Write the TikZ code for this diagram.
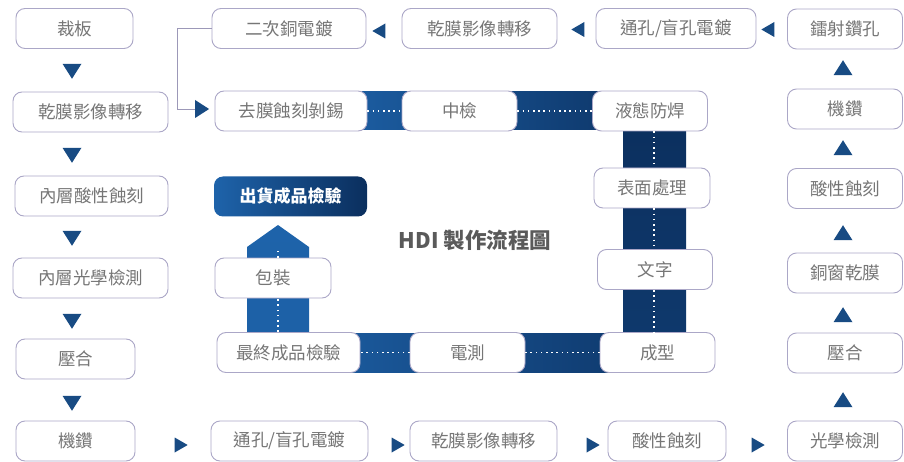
\documentclass[tikz,border=0pt]{standalone}
\usepackage{fontspec}
\setmainfont{Noto Sans CJK TC}
\usepackage{tikz}
\usetikzlibrary{shapes.geometric,calc,backgrounds}
\definecolor{boxline}{HTML}{ABA7C7}
\definecolor{txt}{HTML}{767676}
\definecolor{ttl}{HTML}{5A5A5A}
\definecolor{tri}{HTML}{184B83}
\definecolor{navy}{HTML}{0B2F5E}
\definecolor{midblue}{HTML}{1E63AA}
\definecolor{linkc}{HTML}{9C98B8}
\tikzset{box/.style={draw=boxline,fill=white,rounded corners=9pt,line width=0.9pt,minimum height=40pt,inner sep=0pt,text=txt,font=\fontsize{17.5}{19}\selectfont},
dtri/.style={isosceles triangle,isosceles triangle stretches,inner sep=0pt,fill=tri,minimum width=19pt,minimum height=15pt},
dots/.style={white,line width=1.6pt,dash pattern=on 1.6pt off 3.6pt}}

\begin{document}
\begin{tikzpicture}[x=1pt,y=-1pt]
\useasboundingbox (0,0) rectangle (904,462);
% left column, top down
\node (a1) at (74.5,28.5)[box,minimum width=117pt] {裁板};
\node (a2) at (90.5,112)[box,minimum width=155pt] {乾膜影像轉移};
\node (a3) at (91.5,196)[box,minimum width=153pt] {內層酸性蝕刻};
\node (a4) at (90.5,278)[box,minimum width=155pt] {內層光學檢測};
\node (a5) at (75.5,359)[box,minimum width=119pt] {壓合};
\node (a6) at (75.5,441)[box,minimum width=119pt] {機鑽};
\node (ta1) at (72,69)[dtri,shape border rotate=270] {};
\node (ta2) at (72,153)[dtri,shape border rotate=270] {};
\node (ta3) at (72,236)[dtri,shape border rotate=270] {};
\node (ta4) at (72,319)[dtri,shape border rotate=270] {};
\node (ta5) at (72,401)[dtri,shape border rotate=270] {};
% bottom row, left to right
\node (b1) at (289.5,441)[box,minimum width=157pt] {通孔/盲孔電鍍};
\node (b2) at (483.5,441)[box,minimum width=147pt] {乾膜影像轉移};
\node (b3) at (667,441)[box,minimum width=118pt] {酸性蝕刻};
\node (tb1) at (179,445)[dtri,minimum width=15pt,minimum height=13pt] {};
\node (tb2) at (396,445)[dtri,minimum width=15pt,minimum height=13pt] {};
\node (tb3) at (591,445)[dtri,minimum width=15pt,minimum height=13pt] {};
\node (tb4) at (756,445)[dtri,minimum width=15pt,minimum height=13pt] {};
% right column, bottom up
\node (c1) at (845,441)[box,minimum width=115pt] {光學檢測};
\node (c2) at (845,353)[box,minimum width=115pt] {壓合};
\node (c3) at (845,273)[box,minimum width=115pt] {銅窗乾膜};
\node (c4) at (845,188.5)[box,minimum width=115pt] {酸性蝕刻};
\node (c5) at (845,109)[box,minimum width=115pt] {機鑽};
\node (c6) at (845,29)[box,minimum width=115pt] {鐳射鑽孔};
\node (tc1) at (843,402)[dtri,shape border rotate=90] {};
\node (tc2) at (843,317)[dtri,shape border rotate=90] {};
\node (tc3) at (843,235)[dtri,shape border rotate=90] {};
\node (tc4) at (843,150)[dtri,shape border rotate=90] {};
\node (tc5) at (843,70)[dtri,shape border rotate=90] {};
% top row, right to left
\node (d1) at (676,28.5)[box,minimum width=160pt] {通孔/盲孔電鍍};
\node (d2) at (479.5,28.5)[box,minimum width=155pt] {乾膜影像轉移};
\node (d3) at (289,28.5)[box,minimum width=154pt] {二次銅電鍍};
\node (td1) at (770,29.5)[dtri,shape border rotate=180,minimum width=15pt,minimum height=13pt] {};
\node (td2) at (580,29.5)[dtri,shape border rotate=180,minimum width=15pt,minimum height=13pt] {};
\node (td3) at (381,31)[dtri,shape border rotate=180,minimum width=15pt,minimum height=13pt] {};
% inner loop
\node (m1) at (291,111)[box,minimum width=152pt] {去膜蝕刻剝錫};
\node (m2) at (459.5,111)[box,minimum width=115pt] {中檢};
\node (m3) at (650,111)[box,minimum width=115pt] {液態防焊};
\node (m4) at (652,188)[box,minimum width=116pt] {表面處理};
\node (m5) at (655,269.5)[box,minimum width=115pt] {文字};
\node (m6) at (657.5,352.5)[box,minimum width=115pt] {成型};
\node (m7) at (467.5,352.5)[box,minimum width=115pt] {電測};
\node (m8) at (288.5,352.5)[box,minimum width=143pt] {最終成品檢驗};
\node (m9) at (273,278)[box,minimum width=116pt] {包裝};
\node (ship) at (290.5,196.5)[box,draw=none,left color=midblue,right color=navy,minimum width=153pt,text=white,font=\fontsize{17}{19}\selectfont\bfseries] {出貨成品檢驗};
\node (tm) at (200,109)[dtri,minimum width=18pt,minimum height=14pt] {};
\node (title) at (475,240)[text=ttl,font=\fontsize{21.5}{24}\selectfont\bfseries] {HDI 製作流程圖};
\coordinate (tip) at (278,250);
\coordinate (vx) at (654,0);
\draw[linkc,line width=0.9pt] (d3.west) -- ++(-34,0) |- (tm.west);
% blue bands behind the loop
\begin{scope}[on background layer]
\shade[left color=midblue!85!navy,right color=navy] (362,92) rectangle (686,130);
\shade[top color=navy,bottom color=navy!80!midblue] (623,111) rectangle (686,353);
\shade[left color=midblue,right color=navy!90!midblue] (247,333) rectangle (686,372);
\shade[top color=midblue,bottom color=midblue!95!navy] (247,353) -- (247,247) -- (278,225) -- (309,247) -- (309,353) -- cycle;
\end{scope}
\draw[dots] (m1.east) -- (m2.west);
\draw[dots] (m2.east) -- (m3.west);
\draw[dots] (m3.south -| vx) -- (m4.north -| vx);
\draw[dots] (m4.south -| vx) -- (m5.north -| vx);
\draw[dots] (m5.south -| vx) -- (m6.north -| vx);
\draw[dots] (m6.west) -- (m7.east);
\draw[dots] (m7.west) -- (m8.east);
\draw[dots] (m8.north -| tip) -- (m9.south -| tip);
\draw[dots] (m9.north -| tip) -- (tip);
\end{tikzpicture}
\end{document}
